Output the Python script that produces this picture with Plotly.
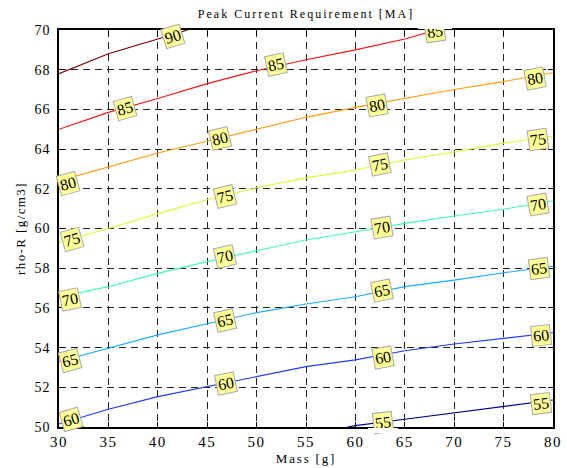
import numpy as np
import plotly.graph_objects as go

# ---- data ----
levels = [90, 85, 80, 75, 70, 65, 60, 55]
colors = ["#800000", "#ff1010", "#ff9a10", "#d4ff30", "#40f8c0", "#18aaff", "#1a3cff", "#000090"]

x90 = [30, 35, 40, 43]
y90 = [67.8, 68.8, 69.55, 70.0]
x85 = [30, 35, 40, 45, 50, 55, 60, 65, 68.2]
y85 = [65.0, 65.85, 66.55, 67.3, 67.95, 68.5, 69.0, 69.55, 70.0]
x80 = [30, 35, 40, 45, 50, 55, 60, 65, 70, 75, 80]
y80 = [62.4, 63.1, 63.8, 64.4, 65.0, 65.6, 66.1, 66.55, 67.0, 67.4, 67.85]
x75 = [30, 35, 40, 45, 50, 55, 60, 65, 70, 75, 80]
y75 = [59.3, 60.0, 60.75, 61.45, 62.05, 62.55, 62.95, 63.45, 63.85, 64.3, 64.65]
x70 = [30, 35, 40, 45, 50, 55, 60, 65, 70, 75, 80]
y70 = [56.55, 57.07, 57.74, 58.33, 58.88, 59.42, 59.84, 60.26, 60.63, 60.97, 61.4]
x65 = [30, 35, 40, 45, 50, 55, 60, 65, 70, 75, 80]
y65 = [53.3, 53.96, 54.64, 55.2, 55.76, 56.2, 56.56, 57.07, 57.4, 57.77, 58.1]
x60 = [30, 35, 40, 45, 50, 55, 60, 65, 70, 75, 80]
y60 = [50.15, 50.89, 51.53, 52.03, 52.53, 53.04, 53.38, 53.84, 54.18, 54.47, 54.75]
x55 = [59.2, 60, 65, 70, 75, 80]
y55 = [50.0, 50.07, 50.39, 50.72, 51.06, 51.36]

lines_x = [x90, x85, x80, x75, x70, x65, x60, x55]
lines_y = [y90, y85, y80, y75, y70, y65, y60, y55]

# contour labels: level, x, y
label_level = [90, 85, 85, 85, 80, 80, 80, 80, 75, 75, 75, 75, 70, 70, 70, 70, 65, 65, 65, 65, 60, 60, 60, 60, 55, 55]
label_x = [41.5, 36.7, 52.0, 68.1, 30.95, 46.3, 62.15, 78.2, 31.3, 46.8, 62.5, 78.5,
           31.1, 46.8, 62.7, 78.5, 31.1, 46.8, 62.7, 78.6, 31.2, 46.9, 62.8, 78.8, 62.8, 78.8]
label_y = [69.65, 66.05, 68.24, 69.92, 62.28, 64.54, 66.22, 67.57, 59.45, 61.6, 63.2, 64.46,
           56.43, 58.58, 60.06, 61.23, 53.37, 55.39, 56.87, 57.99, 50.4, 52.17, 53.51, 54.63, 50.22, 51.19]

x_ticks = [30, 35, 40, 45, 50, 55, 60, 65, 70, 75, 80]
y_ticks = [50, 52, 54, 56, 58, 60, 62, 64, 66, 68, 70]

W, H = 567, 468
ML, MR, MT, MB = 59, 14, 30, 41
px_x = (W - ML - MR) / 50.0
px_y = (H - MT - MB) / 20.0

FONT = "Liberation Serif"


def spaced(t, sp):
    return '<span style="letter-spacing:%spx">%s</span>' % (sp, t)


fig = go.Figure()
for lx, ly, c, lv in zip(lines_x, lines_y, colors, levels):
    fig.add_trace(go.Scatter(x=lx, y=ly, mode="lines", line=dict(color=c, width=1.1),
                             name=str(lv), showlegend=False, hoverinfo="skip"))

annotations = []
for lv, ax_, ay_ in zip(label_level, label_x, label_y):
    i = levels.index(lv)
    lx = np.array(lines_x[i]); ly = np.array(lines_y[i])
    d = 1.0
    s = (np.interp(ax_ + d, lx, ly) - np.interp(ax_ - d, lx, ly)) / (2 * d)
    ang = -np.degrees(np.arctan(s * px_y / px_x))
    annotations.append(dict(x=ax_, y=ay_, xref="x", yref="y", text=str(lv), showarrow=False,
                            textangle=float(ang), font=dict(family=FONT, size=16, color="black"),
                            bgcolor="#ffff99", bordercolor="#a8a8a8", borderwidth=1, borderpad=1))

# white covers to clip labels that cross the frame
annotations.append(dict(x=68.1, y=1, xref="x", yref="paper", yanchor="bottom", yshift=1,
                        text=" ", showarrow=False, width=34, height=12, bgcolor="white",
                        borderpad=0, borderwidth=0))
annotations.append(dict(x=62.8, y=0, xref="x", yref="paper", yanchor="top", yshift=-1,
                        text=" ", showarrow=False, width=30, height=5, bgcolor="white",
                        borderpad=0, borderwidth=0))

fig.update_layout(
    width=W, height=H,
    margin=dict(l=ML, r=MR, t=MT, b=MB, autoexpand=False),
    paper_bgcolor="white", plot_bgcolor="white",
    font=dict(family=FONT, size=15, color="black"),
    title=dict(text=spaced("Peak Current Requirement [MA]", 2.0),
               x=(ML + (W - ML - MR) / 2) / W, xanchor="center", y=1 - 14 / H, yanchor="middle",
               font=dict(family=FONT, size=12, color="black")),
    xaxis=dict(range=[30, 80], tickvals=x_ticks, ticktext=[spaced(v, 1.5) for v in x_ticks],
               ticks="inside", ticklen=5, tickcolor="black", automargin=False,
               showline=True, linecolor="black", linewidth=1.5, mirror="ticks",
               showgrid=True, gridcolor="#222222", gridwidth=1, griddash="7px,5px",
               zeroline=False, tickfont=dict(family=FONT, size=15),
               title=dict(text=spaced("Mass [g]", 1.8),
                          font=dict(family=FONT, size=13), standoff=5)),
    yaxis=dict(range=[50, 70], tickvals=y_ticks, ticktext=[spaced(v, 1.0) for v in y_ticks],
               ticks="inside", ticklen=5, tickcolor="black", automargin=False,
               showline=True, linecolor="black", linewidth=1.5, mirror="ticks",
               showgrid=True, gridcolor="#222222", gridwidth=1, griddash="7px,5px",
               zeroline=False, tickfont=dict(family=FONT, size=14), ticklabelstandoff=4,
               title=dict(text=spaced("rho-R [g/cm3]", 1.4),
                          font=dict(family=FONT, size=13), standoff=6)),
    annotations=annotations,
)

fig.write_html("out.html")
